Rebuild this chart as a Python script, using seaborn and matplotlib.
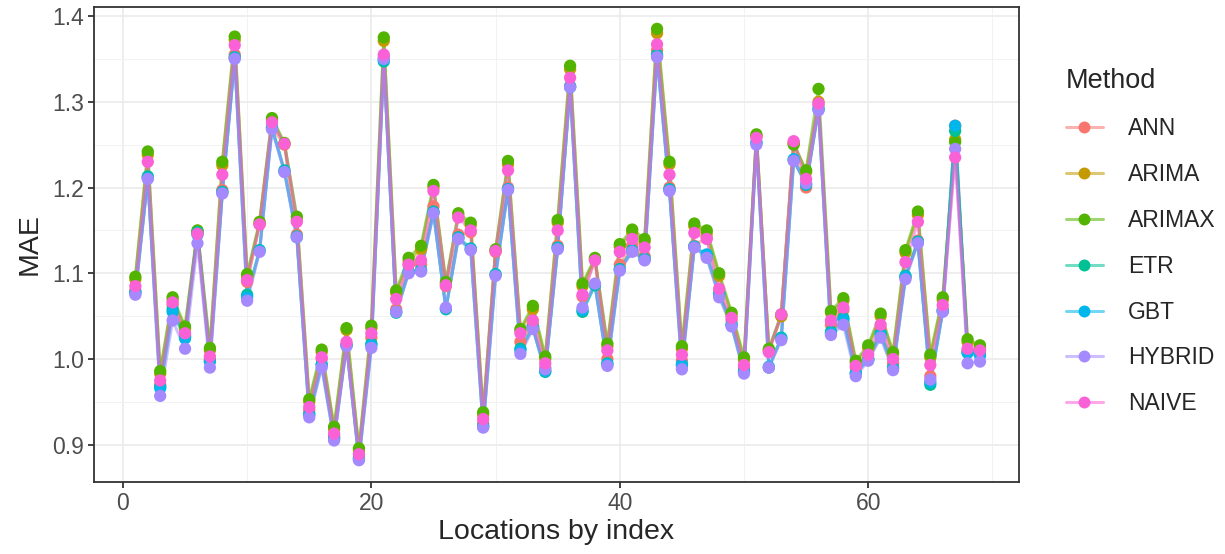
import numpy as np
import pandas as pd
import seaborn as sns
import matplotlib.pyplot as plt
from matplotlib.lines import Line2D
from matplotlib.ticker import MultipleLocator

# 数据: 每个地点(1..69)上各方法的MAE
locations = list(range(1, 70))
methods = ["ANN", "ARIMA", "ARIMAX", "ETR", "GBT", "HYBRID", "NAIVE"]
colors = ["#F8766D", "#C49A00", "#53B400", "#00C094", "#00B6EB", "#A58AFF", "#FB61D7"]

arimax = [1.096, 1.242, 0.986, 1.072, 1.038, 1.150, 1.013, 1.230, 1.376, 1.099,
          1.160, 1.281, 1.252, 1.166, 0.953, 1.011, 0.921, 1.036, 0.896, 1.039,
          1.375, 1.080, 1.118, 1.132, 1.203, 1.090, 1.170, 1.159, 0.938, 1.128,
          1.231, 1.035, 1.062, 1.003, 1.162, 1.342, 1.088, 1.118, 1.018, 1.134,
          1.151, 1.140, 1.385, 1.230, 1.015, 1.158, 1.150, 1.100, 1.054, 1.002,
          1.262, 1.012, 1.052, 1.250, 1.220, 1.315, 1.056, 1.071, 0.998, 1.016,
          1.053, 1.008, 1.127, 1.172, 1.005, 1.072, 1.253, 1.023, 1.016]
arima = [1.093, 1.238, 0.983, 1.069, 1.035, 1.149, 1.010, 1.226, 1.372, 1.096,
         1.158, 1.279, 1.251, 1.162, 0.950, 1.008, 0.918, 1.034, 0.893, 1.036,
         1.371, 1.077, 1.114, 1.128, 1.200, 1.088, 1.167, 1.156, 0.935, 1.126,
         1.227, 1.033, 1.058, 1.000, 1.159, 1.338, 1.085, 1.116, 1.015, 1.131,
         1.148, 1.137, 1.380, 1.227, 1.012, 1.155, 1.147, 1.097, 1.051, 0.999,
         1.260, 1.010, 1.050, 1.252, 1.218, 1.300, 1.054, 1.068, 0.996, 1.013,
         1.050, 1.006, 1.124, 1.168, 1.002, 1.069, 1.256, 1.020, 1.013]
naive = [1.085, 1.230, 0.975, 1.066, 1.030, 1.146, 1.003, 1.215, 1.366, 1.092,
         1.157, 1.276, 1.251, 1.160, 0.944, 1.002, 0.913, 1.020, 0.889, 1.030,
         1.355, 1.070, 1.110, 1.115, 1.196, 1.086, 1.165, 1.150, 0.930, 1.126,
         1.220, 1.030, 1.045, 0.995, 1.150, 1.328, 1.075, 1.115, 1.010, 1.125,
         1.140, 1.130, 1.367, 1.215, 1.005, 1.147, 1.140, 1.082, 1.048, 0.993,
         1.258, 1.008, 1.052, 1.254, 1.210, 1.298, 1.045, 1.060, 0.992, 1.005,
         1.040, 1.000, 1.113, 1.160, 0.993, 1.063, 1.235, 1.012, 1.010]
ann = [1.080, 1.212, 0.970, 1.063, 1.027, 1.147, 1.000, 1.197, 1.355, 1.090,
       1.157, 1.270, 1.250, 1.145, 0.940, 1.000, 0.910, 1.017, 0.886, 1.025,
       1.352, 1.058, 1.110, 1.110, 1.178, 1.085, 1.145, 1.148, 0.925, 1.125,
       1.200, 1.020, 1.040, 0.990, 1.132, 1.318, 1.073, 1.117, 1.000, 1.110,
       1.132, 1.120, 1.360, 1.200, 0.998, 1.132, 1.142, 1.078, 1.045, 0.990,
       1.260, 1.010, 1.050, 1.252, 1.200, 1.296, 1.040, 1.057, 0.990, 1.000,
       1.035, 0.995, 1.095, 1.138, 0.980, 1.058, 1.272, 1.010, 1.010]
etr = [1.078, 1.213, 0.968, 1.058, 1.026, 1.148, 0.998, 1.195, 1.352, 1.075,
       1.127, 1.270, 1.220, 1.143, 0.936, 0.994, 0.908, 1.016, 0.884, 1.018,
       1.347, 1.054, 1.102, 1.104, 1.172, 1.058, 1.142, 1.129, 0.922, 1.099,
       1.198, 1.012, 1.037, 0.985, 1.130, 1.318, 1.055, 1.086, 0.995, 1.105,
       1.127, 1.117, 1.355, 1.198, 0.992, 1.131, 1.120, 1.075, 1.040, 0.986,
       1.252, 0.990, 1.025, 1.232, 1.203, 1.291, 1.032, 1.048, 0.984, 1.000,
       1.030, 0.990, 1.097, 1.137, 0.970, 1.056, 1.266, 1.008, 1.006]
gbt = [1.077, 1.211, 0.966, 1.055, 1.024, 1.145, 0.997, 1.194, 1.351, 1.072,
       1.126, 1.269, 1.219, 1.142, 0.935, 0.993, 0.907, 1.016, 0.883, 1.016,
       1.349, 1.055, 1.101, 1.103, 1.171, 1.059, 1.141, 1.128, 0.921, 1.098,
       1.198, 1.010, 1.036, 0.986, 1.129, 1.317, 1.057, 1.087, 0.994, 1.104,
       1.126, 1.116, 1.353, 1.197, 0.994, 1.131, 1.122, 1.076, 1.040, 0.985,
       1.253, 0.991, 1.024, 1.233, 1.204, 1.292, 1.030, 1.046, 0.983, 0.999,
       1.028, 0.989, 1.096, 1.136, 0.973, 1.056, 1.272, 1.007, 1.004]
hybrid = [1.075, 1.210, 0.957, 1.045, 1.012, 1.135, 0.990, 1.193, 1.350, 1.068,
          1.125, 1.268, 1.218, 1.142, 0.932, 0.990, 0.905, 1.015, 0.882, 1.013,
          1.350, 1.055, 1.100, 1.102, 1.170, 1.060, 1.140, 1.127, 0.920, 1.097,
          1.197, 1.006, 1.035, 0.988, 1.128, 1.317, 1.060, 1.088, 0.992, 1.103,
          1.125, 1.115, 1.352, 1.196, 0.988, 1.130, 1.118, 1.072, 1.038, 0.983,
          1.250, 0.990, 1.022, 1.231, 1.205, 1.290, 1.028, 1.040, 0.980, 0.998,
          1.025, 0.987, 1.093, 1.135, 0.976, 1.055, 1.245, 0.995, 0.997]

series = {"ANN": ann, "ARIMA": arima, "ARIMAX": arimax, "ETR": etr,
          "GBT": gbt, "HYBRID": hybrid, "NAIVE": naive}
df = pd.concat([pd.DataFrame({"Location": locations, "MAE": v, "Method": m})
                for m, v in series.items()], ignore_index=True)
palette = dict(zip(methods, colors))

sns.set_theme(style="white")
plt.rcParams['font.family'] = ['Liberation Sans', 'DejaVu Sans']

fig = plt.figure(figsize=(12.25, 5.54), dpi=100)
# 面板: 左94 右1019 上7 下482 (像素)
ax = fig.add_axes([94 / 1225, 1 - 482 / 554, 925 / 1225, 475 / 554])

# 线条半透明，点实心
sns.lineplot(data=df, x="Location", y="MAE", hue="Method", hue_order=methods,
             palette=palette, linewidth=2.2, alpha=0.55, legend=False, ax=ax, zorder=2)
sns.scatterplot(data=df, x="Location", y="MAE", hue="Method", hue_order=methods,
                palette=palette, s=78, linewidth=0, legend=False, ax=ax, zorder=3)

ax.set_xlim(-2.33, 72.14)
ax.set_ylim(0.8566, 1.4105)
ax.xaxis.set_major_locator(MultipleLocator(20))
ax.xaxis.set_minor_locator(MultipleLocator(10))
ax.yaxis.set_major_locator(MultipleLocator(0.1))
ax.yaxis.set_minor_locator(MultipleLocator(0.05))
ax.grid(which="major", color="#EBEBEB", linewidth=1.2, zorder=0)
ax.grid(which="minor", color="#F2F2F2", linewidth=0.7, zorder=0)
ax.set_axisbelow(True)
for s in ax.spines.values():
    s.set_color("#333333")
    s.set_linewidth(1.3)
ax.tick_params(which="major", length=4.3, width=1.3, color="#333333", pad=3,
               labelsize=16.5, labelcolor="#4D4D4D", bottom=True, left=True)
ax.tick_params(which="minor", length=0)
ax.set_xlabel("Locations by index", fontsize=20.5, labelpad=3)
ax.set_ylabel("MAE", fontsize=20.5, labelpad=7)

handles = [(Line2D([], [], color=c, linewidth=2.2, alpha=0.55),
            Line2D([], [], color=c, marker="o", markersize=8.6, linewidth=0,
                   markeredgewidth=0)) for c in colors]
leg = fig.legend(handles, methods, title="Method", loc="upper left",
                 bbox_to_anchor=(1066 / 1225, 1 - 68 / 554), frameon=False,
                 fontsize=16.5, title_fontsize=19.5, labelspacing=1.0,
                 handlelength=1.6, handletextpad=1.1, borderpad=0,
                 borderaxespad=0)
leg._legend_box.align = "left"

fig.savefig("out.png", dpi=100)
